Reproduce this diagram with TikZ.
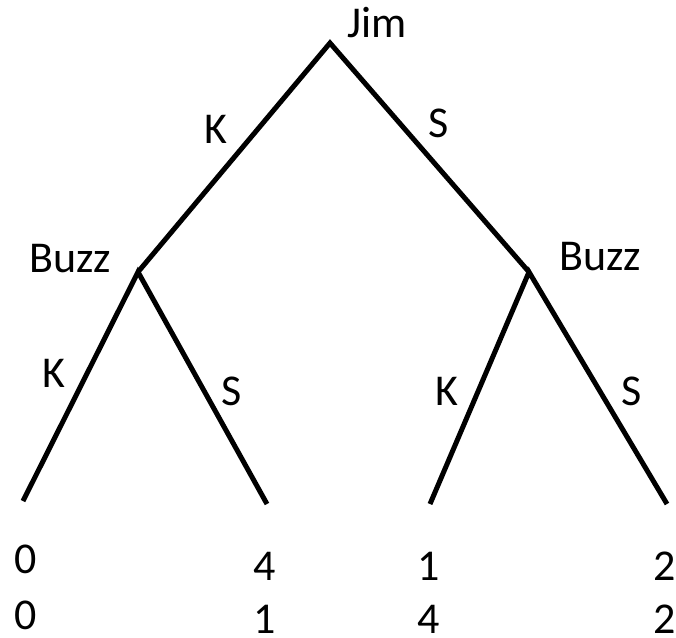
\documentclass[tikz,border=0pt]{standalone}
\usepackage{fontspec}
\setmainfont{Carlito}
\begin{document}
\begin{tikzpicture}[x=1pt,y=-1pt,
  branch/.style={line width=5pt, black},
  lbl/.style={anchor=base, inner sep=0pt, font=\fontsize{44}{50}\selectfont}]
\useasboundingbox (0,0) rectangle (676,637);
% tree vertices
\coordinate (root) at (330,43);
\coordinate (bl) at (138,272);
\coordinate (br) at (529,272);
\coordinate (l1) at (23,501);
\coordinate (l2) at (267,504);
\coordinate (l3) at (430,504);
\coordinate (l4) at (667,504);
% branches
\draw[branch] (bl) -- (root) -- (br);
\draw[branch] (l1) -- (bl) -- (l2);
\draw[branch] (l3) -- (br) -- (l4);
% player labels
\node[lbl] (jim) at (377,37) {Jim};
\node[lbl] (buzzl) at (70,272) {Buzz};
\node[lbl] (buzzr) at (600,270) {Buzz};
% action labels
\node[lbl] (k0) at (216,143) {K};
\node[lbl] (s0) at (439,137) {S};
\node[lbl] (k1) at (54,387) {K};
\node[lbl] (s1) at (232,405) {S};
\node[lbl] (k2) at (447,405) {K};
\node[lbl] (s2) at (632,405) {S};
% payoffs
\node[lbl] (p1a) at (26,573) {0};
\node[lbl] (p1b) at (26,629) {0};
\node[lbl] (p2a) at (265,580) {4};
\node[lbl] (p2b) at (265,633) {1};
\node[lbl] (p3a) at (429,580) {1};
\node[lbl] (p3b) at (429,633) {4};
\node[lbl] (p4a) at (665,580) {2};
\node[lbl] (p4b) at (665,633) {2};
\end{tikzpicture}
\end{document}
